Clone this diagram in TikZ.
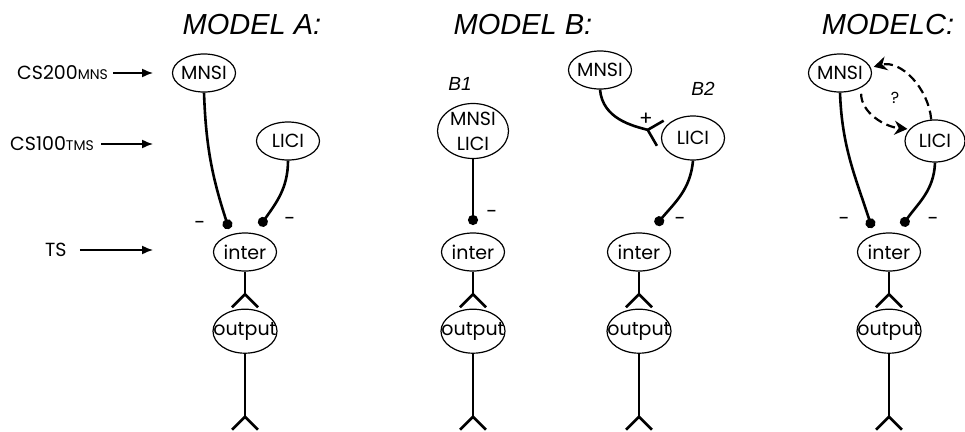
\documentclass[tikz,border=0pt]{standalone}
\usepackage{fontspec}
\setmainfont{Poppins}
\newfontfamily\titlefont{Liberation Sans}
\usetikzlibrary{shapes.geometric,arrows.meta,positioning}
\newcommand{\inblob}[1]{\makebox[0pt]{#1}}
\tikzset
{
    blob/.style    = {ellipse, draw=black, line width=1.2pt, inner sep=0pt, minimum width=63pt, minimum height=38pt, font=\fontsize{19}{20}\selectfont},
    outblob/.style = {blob, minimum width=64pt, minimum height=44pt},
    title/.style   = {font=\titlefont\itshape\fontsize{29}{30}\selectfont},
    subtitle/.style = {font=\titlefont\itshape\fontsize{19}{20}\selectfont},
    sign/.style    = {font=\fontsize{20}{20}\selectfont, inner sep=0pt},
    inlabel/.style = {font=\fontsize{19}{20}\selectfont, inner sep=0pt, anchor=west},
    link/.style    = {line width=2.6pt},
    inhib/.style   = {link, -{Circle[length=10pt]}},
    excit/.style   = {link, -{Straight Barb[reversed, length=13pt, width=26pt]}},
    stim/.style    = {line width=1.5pt, -{Latex[length=11pt, width=9pt]}},
    maybe/.style   = {line width=2.2pt, dash pattern=on 9pt off 5pt, -{Stealth[length=13pt, width=14pt]}}
}

\begin{document}
\begin{tikzpicture}[x=1pt, y=-1pt]
\useasboundingbox (0,0) rectangle (965,431);
\node[title] (titA) at (252,25) {MODEL A:};
\node[title] (titB) at (523,25) {MODEL B:};
\node[title] (titC) at (888,25) {MODELC:};
\node[subtitle] (subB1) at (460,84) {B1};
\node[subtitle] (subB2) at (703,89) {B2};

% stimuli
\node[inlabel] (cs200) at (17,73) {CS200{\fontsize{14}{14}\selectfont MNS}};
\node[inlabel] (cs100) at (10,144) {CS100{\fontsize{14}{14}\selectfont TMS}};
\node[inlabel] (ts) at (45,250) {TS};
\coordinate (toA1) at (153,73);
\coordinate (toA2) at (153,144);
\coordinate (toA3) at (153,250);
\draw[stim] ([xshift=5pt]cs200.east) -- (toA1);
\draw[stim] ([xshift=7pt]cs100.east) -- (toA2);
\draw[stim] ([xshift=13pt]ts.east) -- (toA3);

% model A
\node[blob] (mnsiA) at (204,73) {\inblob{MNSI}};
\node[blob] (liciA) at (288,141) {\inblob{LICI}};
\node[blob] (interA) at (245,252) {\inblob{inter}};
\node[outblob, below=37pt of interA] (outA) {\inblob{output}};
\coordinate (dA1) at (229,229);
\coordinate (dA2) at (260,226);
\coordinate (endA) at (245,431);
\draw[inhib] (mnsiA.south) to[out=-88,in=108] (dA1);
\draw[inhib] (liciA.south) to[out=-90,in=55] (dA2);
\draw[excit] (interA.south) -- (outA.north);
\draw[excit] (outA.south) -- (endA);
\node[sign] (mA1) at (200,225) {-};
\node[sign] (mA2) at (290,221) {-};

% model B1
\node[blob, minimum width=71pt, minimum height=55pt,
  label={[font=\fontsize{19}{25}\selectfont, align=center]center:MNSI\\LICI}] (mnliB1) at (473,131) {};
\node[blob] (interB1) at (473,252) {\inblob{inter}};
\node[outblob, below=37pt of interB1] (outB1) {\inblob{output}};
\coordinate (dB1) at (473,225);
\coordinate (endB1) at (473,431);
\draw[inhib] (mnliB1.south) -- (dB1);
\draw[excit] (interB1.south) -- (outB1.north);
\draw[excit] (outB1.south) -- (endB1);
\node[sign] (mB1) at (492,214) {-};

% model B2
\node[blob] (mnsiB2) at (600,70) {\inblob{MNSI}};
\node[blob, minimum height=44pt] (liciB2) at (693,138) {\inblob{LICI}};
\node[blob] (interB2) at (639,252) {\inblob{inter}};
\node[outblob, below=37pt of interB2] (outB2) {\inblob{output}};
\coordinate (dB2) at (656,225);
\coordinate (endB2) at (639,431);
\draw[excit] (mnsiB2.south) to[out=-85,in=165] (liciB2.172);
\draw[inhib] (liciB2.south) to[out=-95,in=50] (dB2);
\draw[excit] (interB2.south) -- (outB2.north);
\draw[excit] (outB2.south) -- (endB2);
\node[sign] (pB2) at (646,119) {+};
\node[sign] (mB2) at (680,221) {-};

% model C
\node[blob] (mnsiC) at (840,73) {\inblob{MNSI}};
\node[blob, minimum width=60pt, minimum height=42pt] (liciC) at (935,141) {\inblob{LICI}};
\node[blob] (interC) at (889,252) {\inblob{inter}};
\node[outblob, below=37pt of interC] (outC) {\inblob{output}};
\coordinate (dC1) at (872,228);
\coordinate (dC2) at (902,226);
\coordinate (endC) at (889,431);
\draw[inhib] (mnsiC.south) to[out=-88,in=108] (dC1);
\draw[inhib] (liciC.south) to[out=-92,in=55] (dC2);
\draw[maybe, shorten >=3pt] (liciC.100) to[out=95,in=15] (mnsiC.10);
\draw[maybe, shorten <=6pt, shorten >=2pt] (mnsiC.-35) to[out=-90,in=175] (liciC.155);
\draw[excit] (interC.south) -- (outC.north);
\draw[excit] (outC.south) -- (endC);
\node[sign, font=\fontsize{16}{16}\selectfont] (qC) at (895,98) {?};
\node[sign] (mC1) at (844,221) {-};
\node[sign] (mC2) at (933,221) {-};
\end{tikzpicture}
\end{document}
